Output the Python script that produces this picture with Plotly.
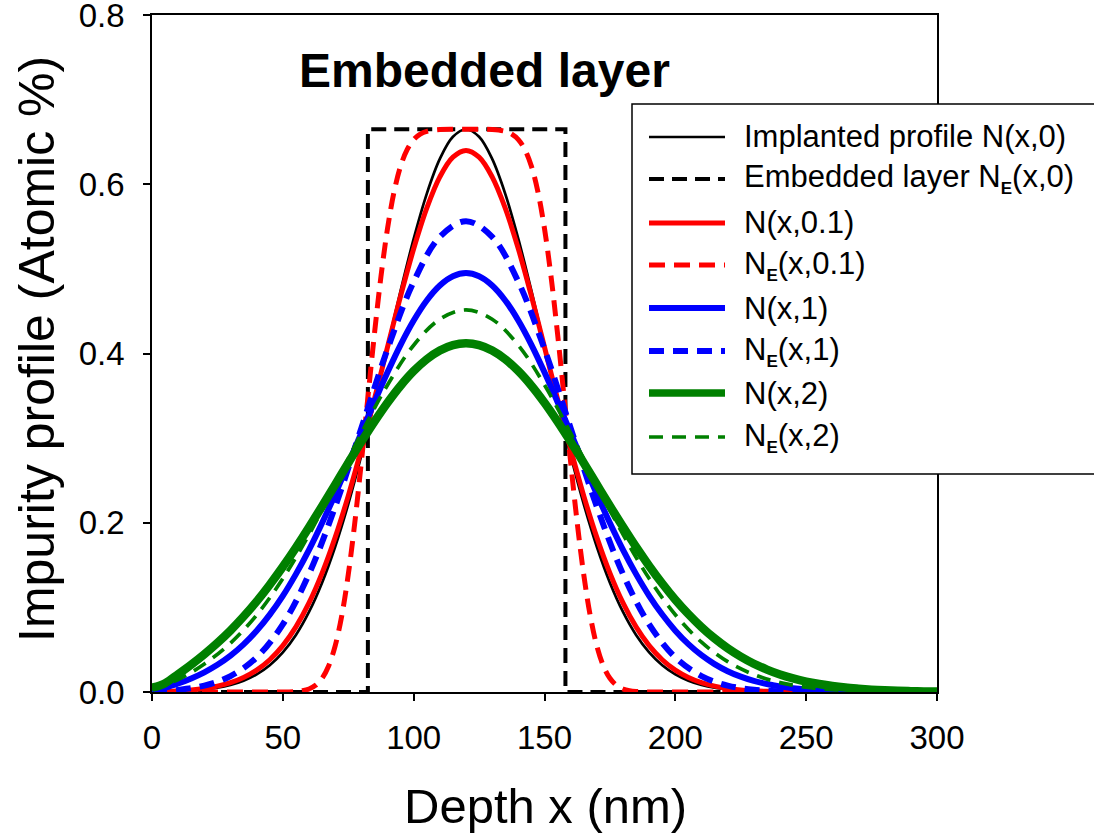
import plotly.graph_objects as go

# ---------------- data ----------------
depth_5 = [0, 5, 10, 15, 20, 25, 30, 35, 40, 45, 50, 55, 60, 65, 70, 75, 80, 85, 90, 95,
           100, 105, 110, 115, 120, 125, 130, 135, 140, 145, 150, 155, 160, 165, 170, 175,
           180, 185, 190, 195, 200, 205, 210, 215, 220, 225, 230, 235, 240, 245, 250, 255,
           260, 265, 270, 275, 280, 285, 290, 295, 300]

depth_10 = [0, 10, 20, 30, 40, 50, 60, 70, 80, 90, 100, 110, 120, 130, 140, 150, 160, 170,
            180, 190, 200, 210, 220, 230, 240, 250, 260, 270, 280, 290, 300]

depth_e01 = [0, 10, 20, 30, 40, 50, 55, 57.5, 60, 62.5, 65, 67.5, 70, 72.5, 75, 77.5, 80,
             82.5, 85, 87.5, 90, 92.5, 95, 97.5, 100, 102.5, 105, 110, 115, 120, 125, 130,
             135, 137.5, 140, 142.5, 145, 147.5, 150, 152.5, 155, 157.5, 160, 162.5, 165,
             167.5, 170, 172.5, 175, 177.5, 180, 182.5, 185, 190, 200, 220, 240, 260, 280, 300]

# Implanted profile N(x,0)
N_0 = [0.0, 0.0005, 0.0009, 0.0017, 0.0030, 0.0050, 0.0083, 0.0133, 0.0208, 0.0316,
       0.0468, 0.0674, 0.0946, 0.1292, 0.1717, 0.2220, 0.2795, 0.3425, 0.4084, 0.4740,
       0.5355, 0.5887, 0.6299, 0.6561, 0.6650, 0.6561, 0.6299, 0.5887, 0.5355, 0.4740,
       0.4084, 0.3425, 0.2795, 0.2220, 0.1717, 0.1292, 0.0946, 0.0674, 0.0468, 0.0316,
       0.0208, 0.0133, 0.0083, 0.0050, 0.0030, 0.0017, 0.0009, 0.0005, 0.0003, 0.0001,
       0.0001, 0.0, 0.0, 0.0, 0.0, 0.0, 0.0, 0.0, 0.0, 0.0, 0.0]

# Embedded layer N_E(x,0) (rectangular layer)
box_x = [0, 82.5, 82.5, 158, 158, 300]
box_y = [0.0, 0.0, 0.665, 0.665, 0.0, 0.0]

# N(x,0.1)
N_01 = [0.0, 0.0005, 0.0014, 0.0024, 0.0042, 0.0069, 0.0110, 0.0171, 0.0258, 0.0381,
        0.0548, 0.0769, 0.1052, 0.1404, 0.1827, 0.2318, 0.2869, 0.3462, 0.4075, 0.4678,
        0.5237, 0.5717, 0.6087, 0.6320, 0.6400, 0.6320, 0.6087, 0.5717, 0.5237, 0.4678,
        0.4075, 0.3462, 0.2869, 0.2318, 0.1827, 0.1404, 0.1052, 0.0769, 0.0548, 0.0381,
        0.0258, 0.0171, 0.0110, 0.0069, 0.0042, 0.0025, 0.0015, 0.0008, 0.0005, 0.0003,
        0.0001, 0.0001, 0.0, 0.0, 0.0, 0.0, 0.0, 0.0, 0.0, 0.0, 0.0]

# N_E(x,0.1)
NE_01 = [0.0, 0.0, 0.0, 0.0, 0.0, 0.0001, 0.0006, 0.0015, 0.0036, 0.0079, 0.0162, 0.0308,
         0.0545, 0.0899, 0.1386, 0.2000, 0.2715, 0.3479, 0.4230, 0.4910, 0.5475, 0.5908,
         0.6213, 0.6409, 0.6528, 0.6592, 0.6625, 0.6646, 0.6650, 0.6650, 0.6650, 0.6646,
         0.6625, 0.6592, 0.6528, 0.6409, 0.6213, 0.5908, 0.5475, 0.4910, 0.4230, 0.3479,
         0.2715, 0.2000, 0.1386, 0.0899, 0.0545, 0.0308, 0.0162, 0.0079, 0.0036, 0.0015,
         0.0006, 0.0001, 0.0, 0.0, 0.0, 0.0, 0.0, 0.0]

# N(x,1)
N_1 = [0.0, 0.0049, 0.0100, 0.0160, 0.0232, 0.0321, 0.0429, 0.0562, 0.0723, 0.0914,
       0.1136, 0.1393, 0.1680, 0.1997, 0.2337, 0.2696, 0.3063, 0.3427, 0.3778, 0.4103,
       0.4390, 0.4627, 0.4804, 0.4913, 0.4950, 0.4913, 0.4804, 0.4627, 0.4390, 0.4103,
       0.3778, 0.3427, 0.3063, 0.2696, 0.2337, 0.1997, 0.1680, 0.1393, 0.1137, 0.0915,
       0.0725, 0.0566, 0.0435, 0.0330, 0.0246, 0.0181, 0.0131, 0.0094, 0.0066, 0.0045,
       0.0031, 0.0021, 0.0014, 0.0009, 0.0006, 0.0004, 0.0002, 0.0001, 0.0001, 0.0, 0.0]

# N_E(x,1)
NE_1 = [0.0, 0.0025, 0.0076, 0.0188, 0.0410, 0.0799, 0.1394, 0.2190, 0.3117, 0.4051,
        0.4847, 0.5378, 0.5564, 0.5378, 0.4847, 0.4051, 0.3117, 0.2190, 0.1394, 0.0799,
        0.0410, 0.0188, 0.0076, 0.0027, 0.0009, 0.0002, 0.0001, 0.0, 0.0, 0.0, 0.0]

# N(x,2)
N_2 = [0.005, 0.0104, 0.0211, 0.0324, 0.0447, 0.0581, 0.0728, 0.0892, 0.1071, 0.1268,
       0.1480, 0.1707, 0.1947, 0.2196, 0.2450, 0.2706, 0.2956, 0.3195, 0.3418, 0.3619,
       0.3792, 0.3932, 0.4035, 0.4099, 0.4120, 0.4099, 0.4035, 0.3932, 0.3792, 0.3619,
       0.3418, 0.3195, 0.2956, 0.2706, 0.2452, 0.2199, 0.1952, 0.1714, 0.1490, 0.1282,
       0.1091, 0.0920, 0.0767, 0.0633, 0.0517, 0.0418, 0.0334, 0.0265, 0.0207, 0.0161,
       0.0123, 0.0094, 0.0070, 0.0052, 0.0039, 0.0028, 0.0020, 0.0014, 0.0010, 0.0007, 0.0005]

# N_E(x,2)
NE_2 = [0.003, 0.0148, 0.0331, 0.0578, 0.0910, 0.1340, 0.1860, 0.2450, 0.3058, 0.3628,
        0.4098, 0.4405, 0.4515, 0.4405, 0.4098, 0.3628, 0.3058, 0.2450, 0.1862, 0.1340,
        0.0913, 0.0589, 0.0358, 0.0206, 0.0111, 0.0057, 0.0027, 0.0012, 0.0005, 0.0002, 0.0001]

SUB_E = "<sub><span style='font-size:17px;font-weight:bold'>E</span></sub>"
legend_labels = [
    "Implanted profile N(x,0)",
    "Embedded layer N" + SUB_E + "(x,0)",
    "N(x,0.1)",
    "N" + SUB_E + "(x,0.1)",
    "N(x,1)",
    "N" + SUB_E + "(x,1)",
    "N(x,2)",
    "N" + SUB_E + "(x,2)",
]

x_ticks = [0, 50, 100, 150, 200, 250, 300]
y_ticks = [0.0, 0.2, 0.4, 0.6, 0.8]

# ---------------- styling ----------------
FONT = "Liberation Sans, Arial, Helvetica, sans-serif"

series = [
    dict(x=depth_5, y=N_0, color="black", width=2.7, dash="solid", shape="spline"),
    dict(x=box_x, y=box_y, color="black", width=4, dash="15px,8px", shape="linear"),
    dict(x=depth_5, y=N_01, color="#ff0000", width=5, dash="solid", shape="spline"),
    dict(x=depth_e01, y=NE_01, color="#ff0000", width=5, dash="16px,9px", shape="spline"),
    dict(x=depth_5, y=N_1, color="#0000ff", width=6, dash="solid", shape="spline"),
    dict(x=depth_10, y=NE_1, color="#0000ff", width=6, dash="15px,9px", shape="spline"),
    dict(x=depth_5, y=N_2, color="#008000", width=8.5, dash="solid", shape="spline"),
    dict(x=depth_10, y=NE_2, color="#008000", width=3.7, dash="14px,9px", shape="spline"),
]

fig = go.Figure()
for s, lab in zip(series, legend_labels):
    fig.add_trace(go.Scatter(
        x=s["x"], y=s["y"], mode="lines", name=lab, showlegend=False,
        line=dict(color=s["color"], width=s["width"], dash=s["dash"], shape=s["shape"]),
    ))

# ---- page layout (page body margin is removed by the post script) ----
W, H = 1094, 836
L, R, T, B = 152, 157, 15, 144
PW, PH = W - L - R, H - T - B


def px2x(px):
    return (px - L) / PW


def py2y(py):
    return (H - B - py) / PH


shapes = [dict(type="rect", xref="paper", yref="paper",
               x0=px2x(632), x1=px2x(1110), y0=py2y(474), y1=py2y(104),
               line=dict(color="black", width=1.5), fillcolor="white", layer="above")]
annotations = []
row_py = [137, 179, 223, 265, 308, 351, 393, 437]
for s, lab, ry in zip(series, legend_labels, row_py):
    shapes.append(dict(type="line", xref="paper", yref="paper",
                       x0=px2x(649), x1=px2x(725), y0=py2y(ry), y1=py2y(ry),
                       line=dict(color=s["color"], width=min(s["width"], 7.5), dash=s["dash"]),
                       layer="above"))
    annotations.append(dict(text=lab, xref="paper", yref="paper",
                            x=px2x(742), y=py2y(ry), xanchor="left", yanchor="middle",
                            showarrow=False, font=dict(family=FONT, size=31, color="black")))

annotations.append(dict(text="<b>Embedded layer</b>", xref="paper", yref="paper",
                        x=px2x(484), y=py2y(70), xanchor="center", yanchor="middle",
                        showarrow=False, font=dict(family=FONT, size=48, color="black")))
annotations.append(dict(text="Depth x (nm)", xref="paper", yref="paper",
                        x=px2x(545), y=py2y(806), xanchor="center", yanchor="middle",
                        showarrow=False, font=dict(family=FONT, size=49, color="black")))
annotations.append(dict(text="Impurity profile (Atomic %)", xref="paper", yref="paper",
                        x=px2x(37), y=py2y(349), xanchor="center", yanchor="middle",
                        textangle=-90, showarrow=False,
                        font=dict(family=FONT, size=50, color="black")))

axis_common = dict(showline=True, linecolor="black", linewidth=1.5, mirror=True,
                   ticks="outside", ticklen=7, tickwidth=1.5, tickcolor="black",
                   showgrid=False, zeroline=False, ticklabeloverflow="allow",
                   automargin=False,
                   tickfont=dict(family=FONT, size=33, color="black"))

fig.update_layout(
    width=W, height=H,
    margin=dict(l=L, r=R, t=T, b=B, autoexpand=False),
    paper_bgcolor="white", plot_bgcolor="white",
    showlegend=False,
    xaxis=dict(range=[0, 300], tickvals=x_ticks, ticklabelstandoff=9, **axis_common),
    yaxis=dict(range=[0, 0.8], tickvals=y_ticks, tickformat=".1f",
               ticklabelstandoff=12, **axis_common),
    shapes=shapes,
    annotations=annotations,
    font=dict(family=FONT),
)

fig.write_html(
    "out.html",
    config={"displayModeBar": False},
    post_script="document.body.style.margin='0';document.body.style.padding='0';"
                "document.body.style.overflow='hidden';",
)
